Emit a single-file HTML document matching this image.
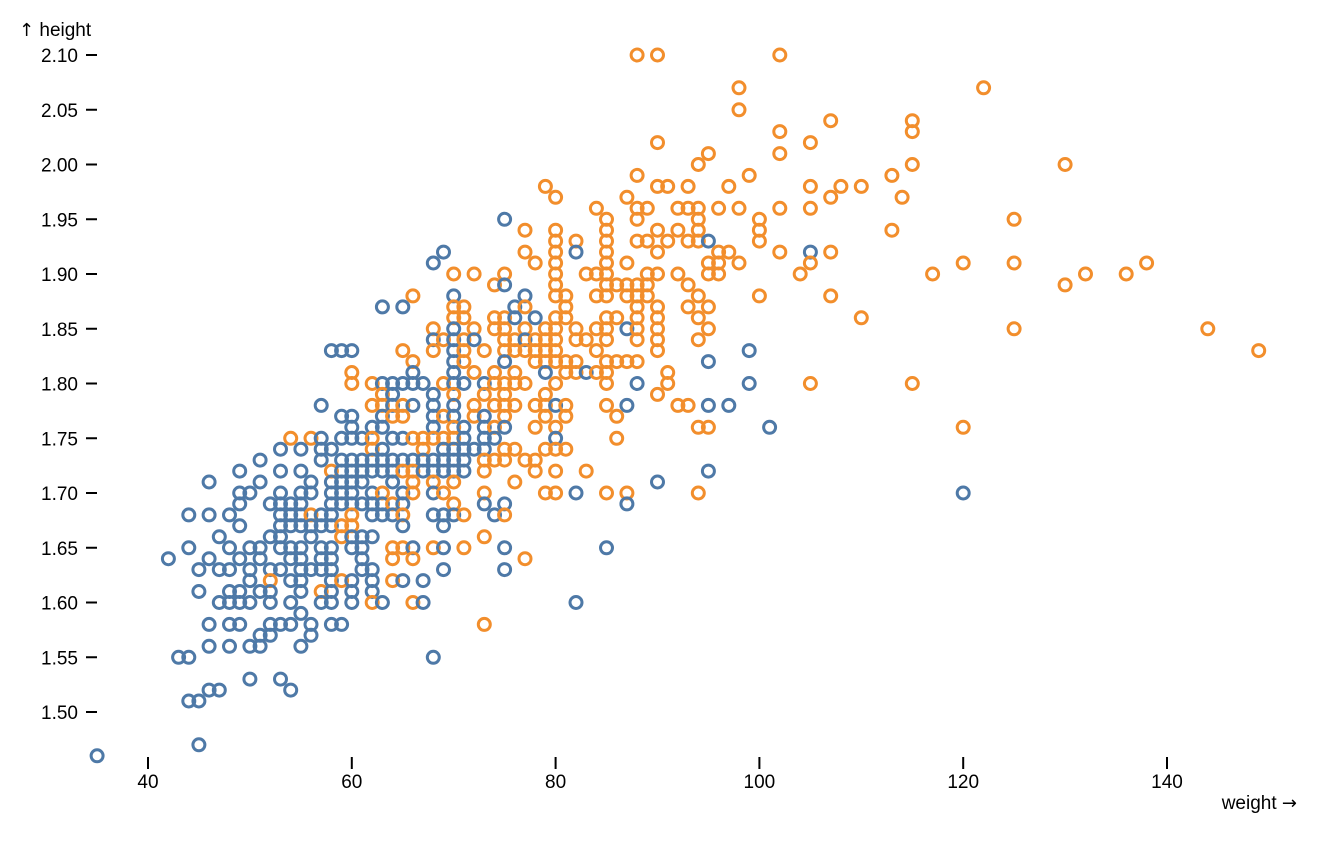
<!DOCTYPE html>
<html>
<head>
<meta charset="utf-8">
<style>
  html, body { margin: 0; padding: 0; background: #fff; }
  svg { display: block; }
  text { font-family: "Liberation Sans", "DejaVu Sans", sans-serif; font-size: 19px; fill: #000; }
  .arr { font-family: "DejaVu Sans", sans-serif; font-size: 18px; }
</style>
</head>
<body>
<svg id="chart" width="1324" height="842" viewBox="0 0 1324 842" xmlns="http://www.w3.org/2000/svg">
  <rect x="0" y="0" width="1324" height="842" fill="#fff"/>
  <!-- Y axis -->
  <g stroke="#000" stroke-width="2">
    <line x1="86" x2="97" y1="55" y2="55"/>
    <line x1="86" x2="97" y1="109.75" y2="109.75"/>
    <line x1="86" x2="97" y1="164.5" y2="164.5"/>
    <line x1="86" x2="97" y1="219.25" y2="219.25"/>
    <line x1="86" x2="97" y1="274" y2="274"/>
    <line x1="86" x2="97" y1="328.75" y2="328.75"/>
    <line x1="86" x2="97" y1="383.5" y2="383.5"/>
    <line x1="86" x2="97" y1="438.25" y2="438.25"/>
    <line x1="86" x2="97" y1="493" y2="493"/>
    <line x1="86" x2="97" y1="547.75" y2="547.75"/>
    <line x1="86" x2="97" y1="602.5" y2="602.5"/>
    <line x1="86" x2="97" y1="657.25" y2="657.25"/>
    <line x1="86" x2="97" y1="712" y2="712"/>
  </g>
  <g text-anchor="end">
    <text x="78" y="62">2.10</text>
    <text x="78" y="116.75">2.05</text>
    <text x="78" y="171.5">2.00</text>
    <text x="78" y="226.25">1.95</text>
    <text x="78" y="281">1.90</text>
    <text x="78" y="335.75">1.85</text>
    <text x="78" y="390.5">1.80</text>
    <text x="78" y="445.25">1.75</text>
    <text x="78" y="500">1.70</text>
    <text x="78" y="554.75">1.65</text>
    <text x="78" y="609.5">1.60</text>
    <text x="78" y="664.25">1.55</text>
    <text x="78" y="719">1.50</text>
  </g>
  <text x="19" y="36"><tspan class="arr">↑</tspan> height</text>
  <!-- X axis -->
  <g stroke="#000" stroke-width="2">
    <line x1="148" x2="148" y1="757" y2="769"/>
    <line x1="351.8" x2="351.8" y1="757" y2="769"/>
    <line x1="555.6" x2="555.6" y1="757" y2="769"/>
    <line x1="759.4" x2="759.4" y1="757" y2="769"/>
    <line x1="963.2" x2="963.2" y1="757" y2="769"/>
    <line x1="1167" x2="1167" y1="757" y2="769"/>
  </g>
  <g text-anchor="middle">
    <text x="148" y="788">40</text>
    <text x="351.8" y="788">60</text>
    <text x="555.6" y="788">80</text>
    <text x="759.4" y="788">100</text>
    <text x="963.2" y="788">120</text>
    <text x="1167" y="788">140</text>
  </g>
  <text x="1297" y="809" text-anchor="end">weight <tspan class="arr">→</tspan></text>
  <g id="dots" fill="none" stroke-width="3"></g>
</svg>
<script>
(function(){
  var rows = [
[210, [], [88,90,102]],
[207, [], [98,122]],
[205, [], [98]],
[204, [], [107,115]],
[203, [], [102,115]],
[202, [], [90,105]],
[201, [], [95,102]],
[200, [], [94,115,130]],
[199, [], [88,99,113]],
[198, [], [79,90,91,93,97,105,108,110]],
[197, [], [80,87,107,114]],
[196, [], [84,88,89,92,93,94,96,98,102,105]],
[195, [75], [85,88,94,100,125]],
[194, [], [77,80,85,90,92,94,100,113]],
[193, [95], [80,82,85,88,89,91,93,94,100]],
[192, [69,82,105], [77,80,85,90,96,97,102,107]],
[191, [68], [78,80,85,87,95,96,98,105,120,125,138]],
[190, [], [70,72,75,80,83,84,85,89,90,92,95,96,104,117,132,136]],
[189, [75], [74,80,85,86,87,88,89,93,130]],
[188, [70,77], [66,80,81,84,85,87,88,89,94,100,107]],
[187, [63,65,76], [70,71,77,81,88,90,93,95]],
[186, [76,78], [70,71,74,75,80,81,85,86,88,90,94,110]],
[185, [70,87], [68,72,74,75,77,79,80,82,84,85,88,90,95,125,144]],
[184, [68,70,72,77], [69,71,75,76,78,79,80,82,83,85,88,90,94]],
[183, [58,59,60,70,99], [65,68,71,73,75,76,77,78,79,80,84,90,149]],
[182, [70,75,95], [66,71,78,79,80,81,82,85,86,87,88]],
[181, [66,70,79,83], [60,72,74,76,81,82,84,85,91]],
[180, [63,64,65,66,67,70,71,73,88,99], [60,62,69,74,75,76,77,80,85,91,105,115]],
[179, [64,68], [63,70,73,75,79,90]],
[178, [57,64,66,68,70,80,87,95,97], [62,63,65,72,74,75,76,78,79,81,85,92,93]],
[177, [59,60,63,68,70,73], [64,65,69,72,75,79,81,86]],
[176, [60,62,63,68,71,73,75,101], [70,74,78,80,94,95,120]],
[175, [57,59,60,61,64,65,71,73,74,80], [54,56,62,66,67,68,69,70,86]],
[174, [53,55,57,58,63,69,70,71,72,73], [62,67,75,76,79,80,81]],
[173, [51,57,59,60,61,62,63,64,65,66,67,68,69,70,71], [73,74,75,77,78]],
[172, [49,53,55,59,60,61,62,63,64,67,68,69,70,71,95], [58,65,66,73,78,80,83]],
[171, [46,51,56,58,59,60,61,64,90], [66,68,70,76]],
[170, [49,50,53,55,56,58,59,60,62,65,68,82,120], [63,66,69,73,79,80,85,87,94]],
[169, [49,52,53,54,55,58,59,60,61,62,63,65,73,75,87], [64,70]],
[168, [44,46,48,53,54,55,57,58,62,63,64,68,69,70,74], [56,60,65,71,75]],
[167, [49,53,54,55,56,57,58,65,69], [59,60]],
[166, [47,52,53,56,60,61,62], [59,73]],
[165, [44,48,50,51,53,54,55,57,58,60,61,66,69,75,85], [64,65,68,71]],
[164, [42,46,49,51,54,55,57,58,61], [64,66,77]],
[163, [45,47,48,50,52,53,55,56,57,58,61,62,69,75], []],
[162, [50,54,55,58,60,62,65,67], [52,59,64]],
[161, [45,48,49,51,52,55,58,60,62], [57]],
[160, [47,48,49,50,52,54,57,58,60,63,67,82], [62,66]],
[159, [55], []],
[158, [46,48,49,52,53,54,56,58,59], [73]],
[157, [51,52,56], []],
[156, [46,48,50,51,55], []],
[155, [43,44,68], []],
[153, [50,53], []],
[152, [46,47,54], []],
[151, [44,45], []],
[147, [45], []],
[146, [35], []]
  ];
  var NS = "http://www.w3.org/2000/svg";
  var g = document.getElementById("dots");
  function X(w){ return 148 + (w - 40) * 10.19; }
  function Y(h){ return 55 + (210 - h) * 10.95; }
  function dot(w, h, c){
    var e = document.createElementNS(NS, "circle");
    e.setAttribute("cx", X(w).toFixed(1));
    e.setAttribute("cy", Y(h).toFixed(1));
    e.setAttribute("r", "6");
    e.setAttribute("stroke", c);
    g.appendChild(e);
  }
  rows.forEach(function(r){
    var h = r[0], bl = r[1], or = r[2];
    var items = [];
    bl.forEach(function(w){ items.push([w, "#4e79a7"]); });
    or.forEach(function(w){ items.push([w, "#f28e2c"]); });
    items.sort(function(a,b){ return a[0]-b[0]; });
    items.forEach(function(it){ dot(it[0], h, it[1]); });
  });
})();
</script>
</body>
</html>
